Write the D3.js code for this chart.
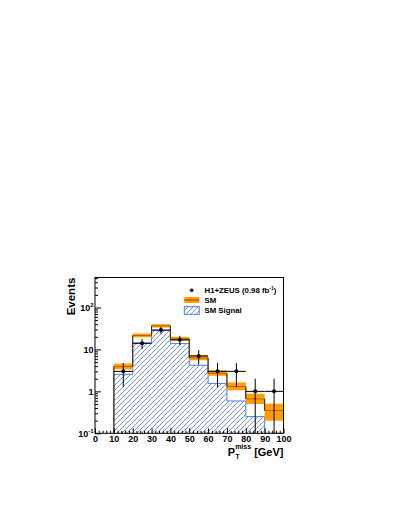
<!DOCTYPE html>
<html>
<head>
<meta charset="utf-8">
<script src="https://cdn.jsdelivr.net/npm/d3@7"></script>
<style>
html,body{margin:0;padding:0;background:#fff;}
svg{display:block;font-family:"Liberation Sans",Arial,sans-serif;font-weight:bold;}
</style>
</head>
<body>
<svg id="chart" width="395" height="511"></svg>
<script>
// ---- data ----
const binLow = [10, 20, 30, 40, 50, 60, 70, 80, 90];
const binWidth = 10;
const smCentral = [3.9, 21.5, 36.5, 17.8, 6.3, 2.7, 1.3, 0.66, 0.35];
const smLow = [3.36, 19.6, 33.4, 16.0, 5.5, 2.35, 1.06, 0.50, 0.20];
const smHigh = [4.6, 24.0, 40.0, 19.9, 7.3, 3.18, 1.64, 0.88, 0.51];
const smSignal = [2.55, 14.3, 28.5, 13.8, 4.2, 1.55, 0.59, 0.25, 0];
const dataCounts = [3, 14, 29, 17, 7, 3, 3, 1, 1];
const xTickValues = [0, 10, 20, 30, 40, 50, 60, 70, 80, 90, 100];
const yTickValues = [0.1, 1, 10, 100];
const yTickBase = ["10", "1", "10", "10"];
const yTickExp = ["-1", "", "", "2"];
const legendLabels = ["H1+ZEUS (0.98 fb", "SM", "SM Signal"];

const svg = d3.select("#chart");
const X0 = 95, X1 = 283.5, Y0 = 433.3, Y1 = 277.5;
const yMin = 0.1, yMax = 520;
const x = d3.scaleLinear().domain([0, 100]).range([X0, X1]);
const y = d3.scaleLog().domain([yMin, yMax]).range([Y0, Y1]);
const yc = v => y(Math.max(v, yMin));

const orange = "#ffa000", darkOrange = "#c85a00", blue = "#4d7cf2";

// hatch pattern
const defs = svg.append("defs");
const pat = defs.append("pattern").attr("id", "hatch").attr("patternUnits", "userSpaceOnUse")
  .attr("width", 5).attr("height", 5);
pat.append("path").attr("d", "M-1,1 l2,-2 M0,5 l5,-5 M4,6 l2,-2")
  .attr("stroke", blue).attr("stroke-width", 0.8);
defs.append("clipPath").attr("id", "clip").append("rect")
  .attr("x", X0).attr("y", Y1).attr("width", X1 - X0).attr("height", Y0 - Y1);

const plot = svg.append("g").attr("clip-path", "url(#clip)");

// signal hatched bars
plot.selectAll("rect.sig").data(binLow.map((b, i) => ({b, v: smSignal[i]})).filter(d => d.v > 0))
  .enter().append("rect").attr("class", "sig")
  .attr("x", d => x(d.b)).attr("width", d => x(d.b + binWidth) - x(d.b))
  .attr("y", d => yc(d.v)).attr("height", d => Y0 - yc(d.v))
  .attr("fill", "url(#hatch)");

// signal outline (step)
function stepPath(vals) {
  let p = "M" + x(binLow[0]) + "," + Y0;
  vals.forEach((v, i) => {
    p += "L" + x(binLow[i]) + "," + yc(v) + "L" + x(binLow[i] + binWidth) + "," + yc(v);
  });
  p += "L" + x(binLow[binLow.length - 1] + binWidth) + "," + Y0;
  return p;
}
plot.append("path").attr("d", stepPath(smSignal)).attr("fill", "none")
  .attr("stroke", blue).attr("stroke-width", 1);

// SM uncertainty band
plot.selectAll("rect.band").data(binLow.map((b, i) => ({b, lo: smLow[i], hi: smHigh[i]})))
  .enter().append("rect").attr("class", "band")
  .attr("x", d => x(d.b)).attr("width", d => x(d.b + binWidth) - x(d.b))
  .attr("y", d => yc(d.hi)).attr("height", d => yc(d.lo) - yc(d.hi))
  .attr("fill", orange);

// SM central step
plot.append("path").attr("d", stepPath(smCentral)).attr("fill", "none")
  .attr("stroke", darkOrange).attr("stroke-width", 1);
plot.append("path").attr("d", (() => {
  let p = "M" + x(binLow[0]) + "," + Y0 + "L" + x(binLow[0]) + "," + yc(smCentral[0]);
  for (let i = 1; i < binLow.length; i++) p += "M" + x(binLow[i]) + "," + yc(smCentral[i - 1]) + "L" + x(binLow[i]) + "," + yc(smCentral[i]);
  return p;
})()).attr("fill", "none").attr("stroke", "#333").attr("stroke-width", 1);

// data points
const pts = binLow.map((b, i) => ({xc: b + binWidth / 2, v: dataCounts[i], e: Math.sqrt(dataCounts[i])}));
const dg = plot.append("g");
pts.forEach(d => {
  dg.append("line").attr("x1", x(d.xc - binWidth / 2)).attr("x2", x(d.xc + binWidth / 2))
    .attr("y1", y(d.v)).attr("y2", y(d.v)).attr("stroke", "#000").attr("stroke-width", 1);
  dg.append("line").attr("x1", x(d.xc)).attr("x2", x(d.xc))
    .attr("y1", y(d.v + d.e)).attr("y2", yc(d.v - d.e)).attr("stroke", "#000").attr("stroke-width", 1);
  dg.append("circle").attr("cx", x(d.xc)).attr("cy", y(d.v)).attr("r", 2).attr("fill", "#000");
});

// frame
svg.append("rect").attr("x", X0).attr("y", Y1).attr("width", X1 - X0).attr("height", Y0 - Y1)
  .attr("fill", "none").attr("stroke", "#000").attr("stroke-width", 1);

// x axis
const xAxis = svg.append("g").attr("transform", `translate(0,${Y0})`)
  .call(d3.axisBottom(x).tickValues(xTickValues).tickSize(-5).tickPadding(2).tickFormat(d3.format("d")));
svg.append("g").attr("transform", `translate(0,${Y0})`)
  .call(d3.axisBottom(x).tickValues(d3.range(0, 101, 2).filter(v => v % 10 !== 0)).tickSize(-2.5).tickFormat(""));
// y axis
const yAxis = svg.append("g").attr("transform", `translate(${X0},0)`)
  .call(d3.axisLeft(y).tickValues(yTickValues).tickSize(-6).tickPadding(1.5).tickFormat(""));
const minorY = [];
for (let e = -1; e <= 2; e++) for (let m = 2; m <= 9; m++) { const v = m * Math.pow(10, e); if (v <= yMax) minorY.push(v); }
svg.append("g").attr("transform", `translate(${X0},0)`)
  .call(d3.axisLeft(y).tickValues(minorY).tickSize(-3).tickFormat(""));
[xAxis, yAxis].forEach(g => {
  g.select(".domain").remove();
  g.selectAll("text").attr("font-family", "Liberation Sans, Arial, sans-serif").attr("font-weight", "bold").attr("font-size", 9).attr("fill", "#000");
});
svg.selectAll(".domain").remove();
svg.selectAll(".tick line").attr("stroke", "#000");

// y tick labels with exponents
yTickValues.forEach((v, i) => {
  const t = svg.append("text").attr("x", X0 - 1.5).attr("y", y(v) + 3.3)
    .attr("text-anchor", "end").attr("font-size", 9).attr("fill", "#000");
  t.append("tspan").text(yTickBase[i]);
  if (yTickExp[i]) t.append("tspan").attr("dy", -3.5).attr("font-size", 6).text(yTickExp[i]);
});

// axis titles
svg.append("text").attr("transform", `translate(75,296.5) rotate(-90)`).attr("text-anchor", "middle")
  .attr("font-size", 11.5).text("Events");
const xt = svg.append("text").attr("x", X1).attr("y", 455.5).attr("text-anchor", "end").attr("font-size", 11);
xt.append("tspan").text("P");
xt.append("tspan").attr("font-size", 7).attr("dy", -6.5).text("miss");
xt.append("tspan").attr("font-size", 11).attr("dy", 6.5).text(" [GeV]");
svg.append("text").attr("x", X1 - 29 - 19).attr("y", 458.5).attr("font-size", 6.5).text("T");

// legend
svg.append("circle").attr("cx", 191.7).attr("cy", 290.3).attr("r", 1.8).attr("fill", "#000");
const l1 = svg.append("text").attr("x", 204.5).attr("y", 293.3).attr("font-size", 7.8);
l1.append("tspan").text(legendLabels[0]);
l1.append("tspan").attr("dy", -3).attr("font-size", 5).text("-1");
l1.append("tspan").attr("dy", 3).text(")");
svg.append("rect").attr("x", 184.3).attr("y", 297).attr("width", 15).attr("height", 6).attr("fill", orange);
svg.append("line").attr("x1", 184.3).attr("x2", 199.3).attr("y1", 300).attr("y2", 300).attr("stroke", darkOrange).attr("stroke-width", 1.5);
svg.append("text").attr("x", 204.5).attr("y", 302.8).attr("font-size", 7.8).text(legendLabels[1]);
svg.append("rect").attr("x", 184.3).attr("y", 306.7).attr("width", 15).attr("height", 7.6)
  .attr("fill", "url(#hatch)").attr("stroke", blue).attr("stroke-width", 1);
svg.append("text").attr("x", 204.5).attr("y", 312.7).attr("font-size", 7.8).text(legendLabels[2]);
</script>
</body>
</html>
